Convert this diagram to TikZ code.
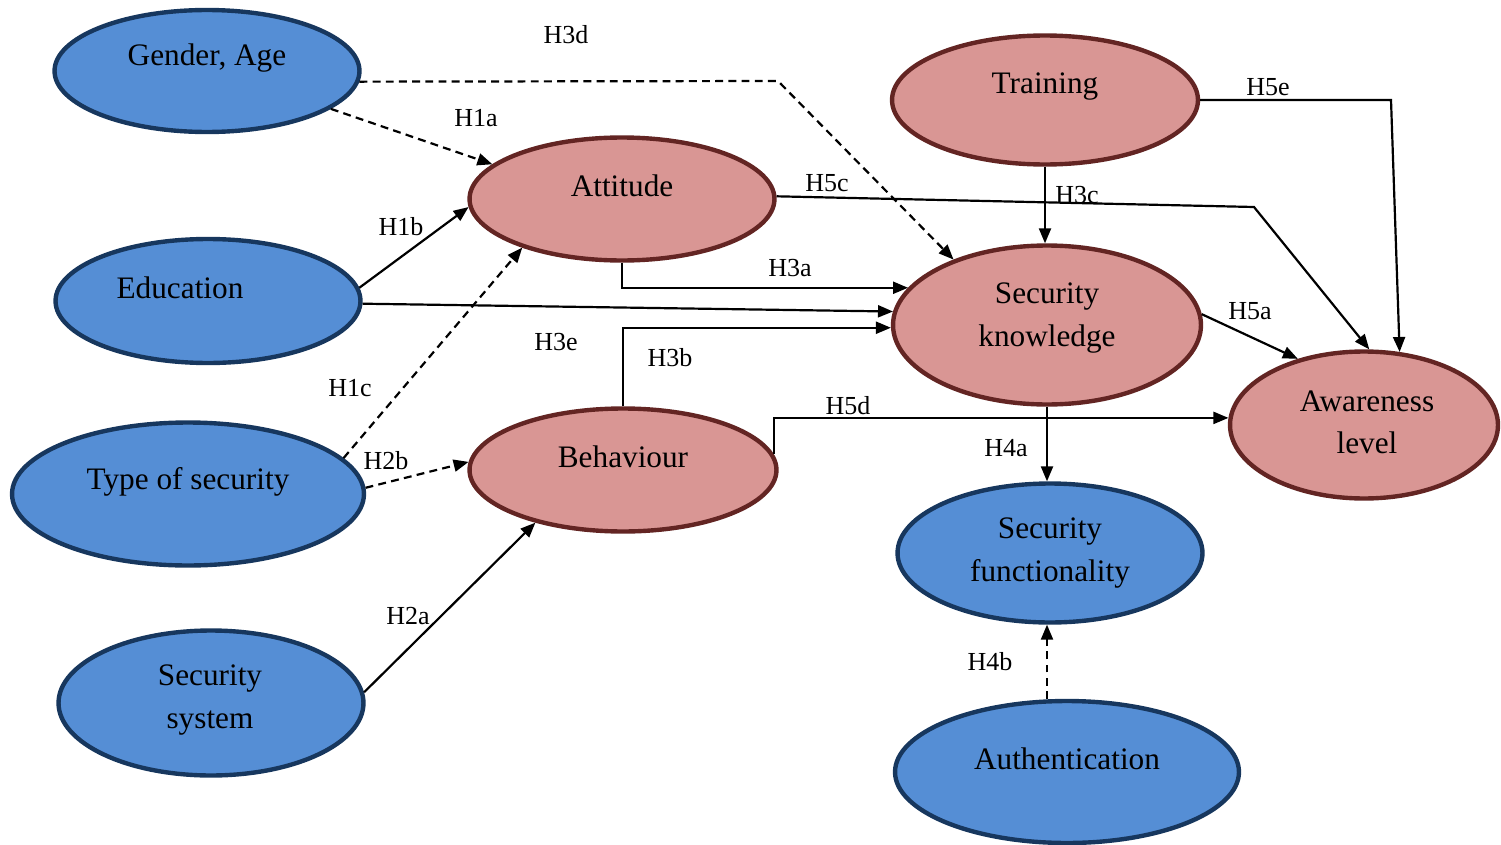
\documentclass[tikz,border=0pt]{standalone}
\usepackage{fontspec}
\setmainfont{Liberation Serif}
\usetikzlibrary{shapes.geometric,arrows.meta}
\definecolor{bfill}{RGB}{85,142,213}
\definecolor{bdraw}{RGB}{23,55,94}
\definecolor{pfill}{RGB}{217,150,148}
\definecolor{pdraw}{RGB}{99,37,35}
\begin{document}
\begin{tikzpicture}[x=0.02cm,y=-0.02cm,
 blueell/.style={ellipse, draw=bdraw, fill=bfill, line width=2.5pt, inner sep=0pt},
 pinkell/.style={ellipse, draw=pdraw, fill=pfill, line width=2.5pt, inner sep=0pt},
 ntext/.style={font=\fontsize{17.8}{24}\selectfont, align=center, inner sep=0pt},
 hlab/.style={font=\fontsize{14.8}{18}\selectfont, inner sep=0pt},
 conn/.style={line width=1.25pt, -{Triangle[length=0.3cm,width=0.24cm]}},
 dconn/.style={conn, dash pattern=on 4.5pt off 3pt}]
\useasboundingbox (0,0) rectangle (1501,845);
% ellipses
\node[blueell, minimum width=6.1cm, minimum height=2.44cm] (ga) at (207,71) {};
\node[blueell, minimum width=6.1cm, minimum height=2.48cm] (edu) at (208,301) {};
\node[blueell, minimum width=7.04cm, minimum height=2.86cm] (tos) at (188,494) {};
\node[blueell, minimum width=6.1cm, minimum height=2.9cm] (ss) at (211,703) {};
\node[pinkell, minimum width=6.1cm, minimum height=2.46cm] (att) at (622,199) {};
\node[pinkell, minimum width=6.14cm, minimum height=2.46cm] (beh) at (623,470) {};
\node[pinkell, minimum width=6.12cm, minimum height=2.58cm] (tr) at (1045,100) {};
\node[pinkell, minimum width=6.16cm, minimum height=3.18cm] (sk) at (1047,325) {};
\node[pinkell, minimum width=5.36cm, minimum height=2.94cm] (aw) at (1364,425) {};
\node[blueell, minimum width=6.1cm, minimum height=2.78cm] (sf) at (1050,553) {};
\node[blueell, minimum width=6.88cm, minimum height=2.84cm] (auth) at (1067,772) {};
% texts
\node[ntext] (gat) at (207,58) {Gender, Age};
\node[ntext] (edut) at (180,288) {Education};
\node[ntext] (tost) at (188,482) {Type of security};
\node[ntext] (sst) at (210,700) {Security\\system};
\node[ntext] (attt) at (622,186) {Attitude};
\node[ntext] (beht) at (623,457) {Behaviour};
\node[ntext] (trt) at (1045,87) {Training};
\node[ntext] (skt) at (1047,318) {Security\\knowledge};
\node[ntext] (awt) at (1367,422) {Awareness\\level};
\node[ntext] (sft) at (1050,553) {Security\\functionality};
\node[ntext] (autht) at (1067,759) {Authentication};
% coordinates for bends
\coordinate (b3d) at (778,81);
\coordinate (b5c) at (1254,207);
\coordinate (b5e) at (1391,100);
% connectors
\draw[dconn] (ga.-4) -- (b3d) -- (sk.145);
\draw[dconn] (ga.-17) -- (att.165);
\draw[conn] (edu.5) -- (att.183);
\draw[conn] (edu.-1) -- (sk.175);
\draw[dconn] (tos.13) -- (att.206);
\draw[dconn] (tos.2) -- (beh.177);
\draw[conn] (ss.4) -- (beh.211);
\draw[conn] (att.south) |- (sk.165);
\draw[conn] (beh.north) |- (sk.181);
\draw[conn] (beh.6) |- (aw.177);
\draw[conn] (att.1) -- (b5c) -- (aw.86);
\draw[conn] (tr.south) -- (tr.south |- sk.north);
\draw[conn] (tr.east) -- (b5e) -- (aw.64);
\draw[conn] (sk.4) -- (aw.135);
\draw[conn] (sk.south) -- (sk.south |- sf.north);
\draw[dconn] (sk.south |- auth.north) -- (sk.south |- sf.south);
% labels
\node[hlab] (l3d) at (566,35) {H3d};
\node[hlab] (l1a) at (476,118) {H1a};
\node[hlab] (l1b) at (401,227) {H1b};
\node[hlab] (l1c) at (350,388) {H1c};
\node[hlab] (l2b) at (386,461) {H2b};
\node[hlab] (l2a) at (408,616) {H2a};
\node[hlab] (l3e) at (556,342) {H3e};
\node[hlab] (l3a) at (790,268) {H3a};
\node[hlab] (l3b) at (670,358) {H3b};
\node[hlab] (l5d) at (848,406) {H5d};
\node[hlab] (l5c) at (827,183) {H5c};
\node[hlab] (l3c) at (1077,195) {H3c};
\node[hlab] (l5e) at (1268,87) {H5e};
\node[hlab] (l5a) at (1250,311) {H5a};
\node[hlab] (l4a) at (1006,448) {H4a};
\node[hlab] (l4b) at (990,662) {H4b};
\end{tikzpicture}
\end{document}
